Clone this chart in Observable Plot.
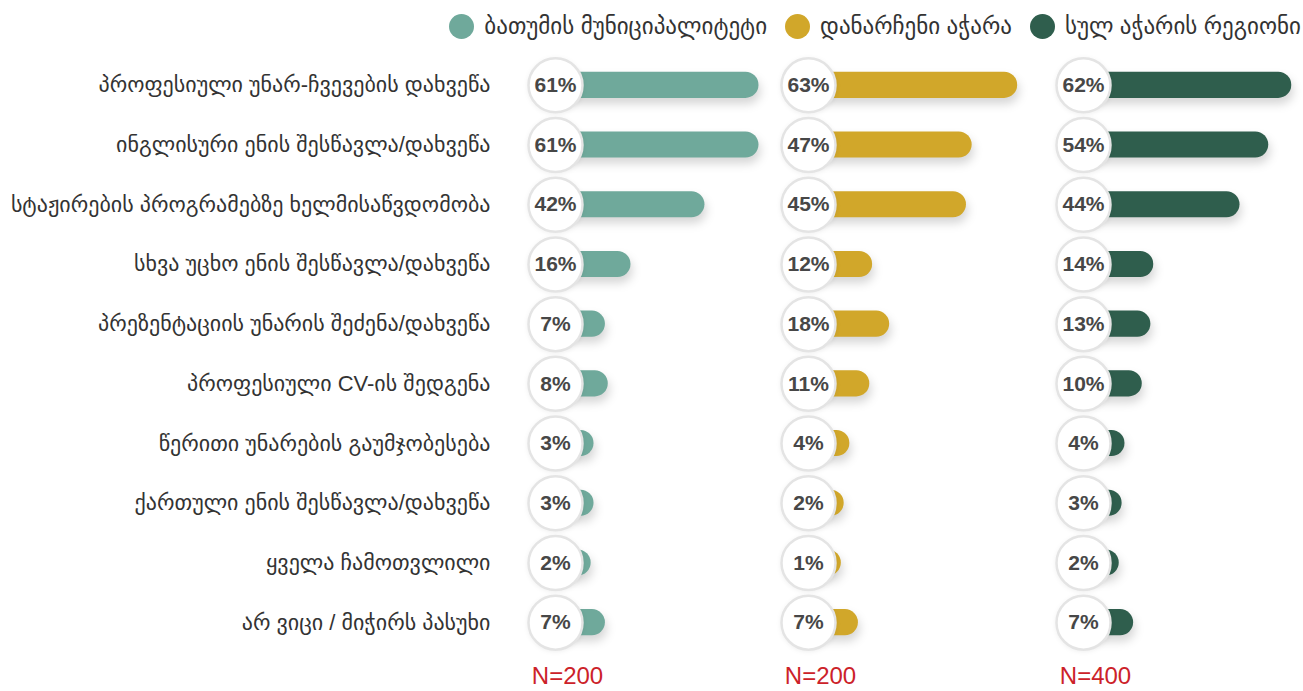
<!DOCTYPE html>
<html>
<head>
<meta charset="utf-8">
<script src="https://cdn.jsdelivr.net/npm/d3@7"></script>
<script src="https://cdn.jsdelivr.net/npm/@observablehq/plot@0.6"></script>
<style>
  html, body { margin: 0; padding: 0; background: #fff; }
  body { width: 1303px; height: 691px; overflow: hidden; font-family: "Liberation Sans", "DejaVu Sans", sans-serif; }
  #legend { height: 52px; display: flex; align-items: center; justify-content: flex-end; padding-right: 2px; box-sizing: border-box; }
  .item { display: flex; align-items: center; margin-left: 18px; font-size: 23px; color: #333; }
  .sw { width: 25px; height: 25px; border-radius: 50%; margin-right: 10px; }
  #panels { display: flex; width: 1400px; }
  #panels svg { overflow: visible; flex-shrink: 0; max-width: none !important; }
</style>
</head>
<body>
<div id="legend"></div>
<div id="panels"></div>
<script>
const categories = [
  "პროფესიული უნარ-ჩვევების დახვეწა",
  "ინგლისური ენის შესწავლა/დახვეწა",
  "სტაჟირების პროგრამებზე ხელმისაწვდომობა",
  "სხვა უცხო ენის შესწავლა/დახვეწა",
  "პრეზენტაციის უნარის შეძენა/დახვეწა",
  "პროფესიული CV-ის შედგენა",
  "წერითი უნარების გაუმჯობესება",
  "ქართული ენის შესწავლა/დახვეწა",
  "ყველა ჩამოთვლილი",
  "არ ვიცი / მიჭირს პასუხი"
];
const batumi     = [61, 61, 42, 16, 7, 8, 3, 3, 2, 7];
const restAjara  = [63, 47, 45, 12, 18, 11, 4, 2, 1, 7];
const totalAjara = [62, 54, 44, 14, 13, 10, 4, 3, 2, 7];
const seriesNames = ["ბათუმის მუნიციპალიტეტი", "დანარჩენი აჭარა", "სულ აჭარის რეგიონი"];
const sampleSizes = ["N=200", "N=200", "N=400"];
const colors = ["#6fa99b", "#d1a72a", "#2f5e4d"];

const seriesValues = [batumi, restAjara, totalAjara];

// legend
const legend = document.getElementById("legend");
seriesNames.forEach((name, i) => {
  const it = document.createElement("div");
  it.className = "item";
  it.innerHTML = `<span class="sw" style="background:${colors[i]}"></span><span>${name}</span>`;
  legend.appendChild(it);
});

const layouts = [
  {width: 767, marginLeft: 585, marginRight: 0, axis: true},
  {width: 253, marginLeft: 71, marginRight: 0, axis: false},
  {width: 283, marginLeft: 93, marginRight: 6, axis: false}
];

const panels = document.getElementById("panels");
seriesValues.forEach((values, i) => {
  const L = layouts[i];
  const rows = categories.map((c, j) => ({category: c, value: values[j]}));
  const chart = Plot.plot({
    width: L.width,
    height: 640,
    marginLeft: L.marginLeft,
    marginRight: L.marginRight,
    marginTop: 3,
    marginBottom: 40,
    style: {fontFamily: '"Liberation Sans", "DejaVu Sans", sans-serif', fontSize: "22px", color: "#333", background: "transparent", overflow: "visible"},
    x: {domain: [0, 64], axis: null},
    y: L.axis
      ? {domain: categories, padding: 0, round: false, tickSize: 0, tickPadding: 95, label: null}
      : {domain: categories, padding: 0, round: false, axis: null},
    marks: [
      Plot.barX(rows, {x1: 0, x2: "value", y: "category", fill: colors[i], insetLeft: -30, insetTop: 16.8, insetBottom: 16.8, rx: 13}),
      Plot.dot(rows, {x: 0, y: "category", dx: -30, r: 27, fill: "white", stroke: "#e4e4e4", strokeWidth: 2.5}),
      Plot.text(rows, {x: 0, y: "category", dx: -30, text: d => d.value + "%", fontSize: 21, fontWeight: "bold", fill: "#474747", fontFamily: '"Liberation Sans", Arial, sans-serif'}),
      Plot.text([sampleSizes[i]], {x: 0, text: d => d, frameAnchor: "bottom", lineAnchor: "middle", dx: -18, dy: 24, fill: "#cc2229", fontSize: 24, fontFamily: '"Liberation Sans", Arial, sans-serif'})
    ]
  });
  chart.querySelectorAll('g[aria-label="bar"]').forEach(g => {
    g.style.filter = "drop-shadow(2px 6px 5px rgba(0,0,0,0.16))";
  });
  chart.querySelectorAll('g[aria-label="dot"]').forEach(g => {
    g.style.filter = "drop-shadow(0px 1px 2px rgba(0,0,0,0.06))";
  });
  panels.appendChild(chart);
});
</script>
</body>
</html>
